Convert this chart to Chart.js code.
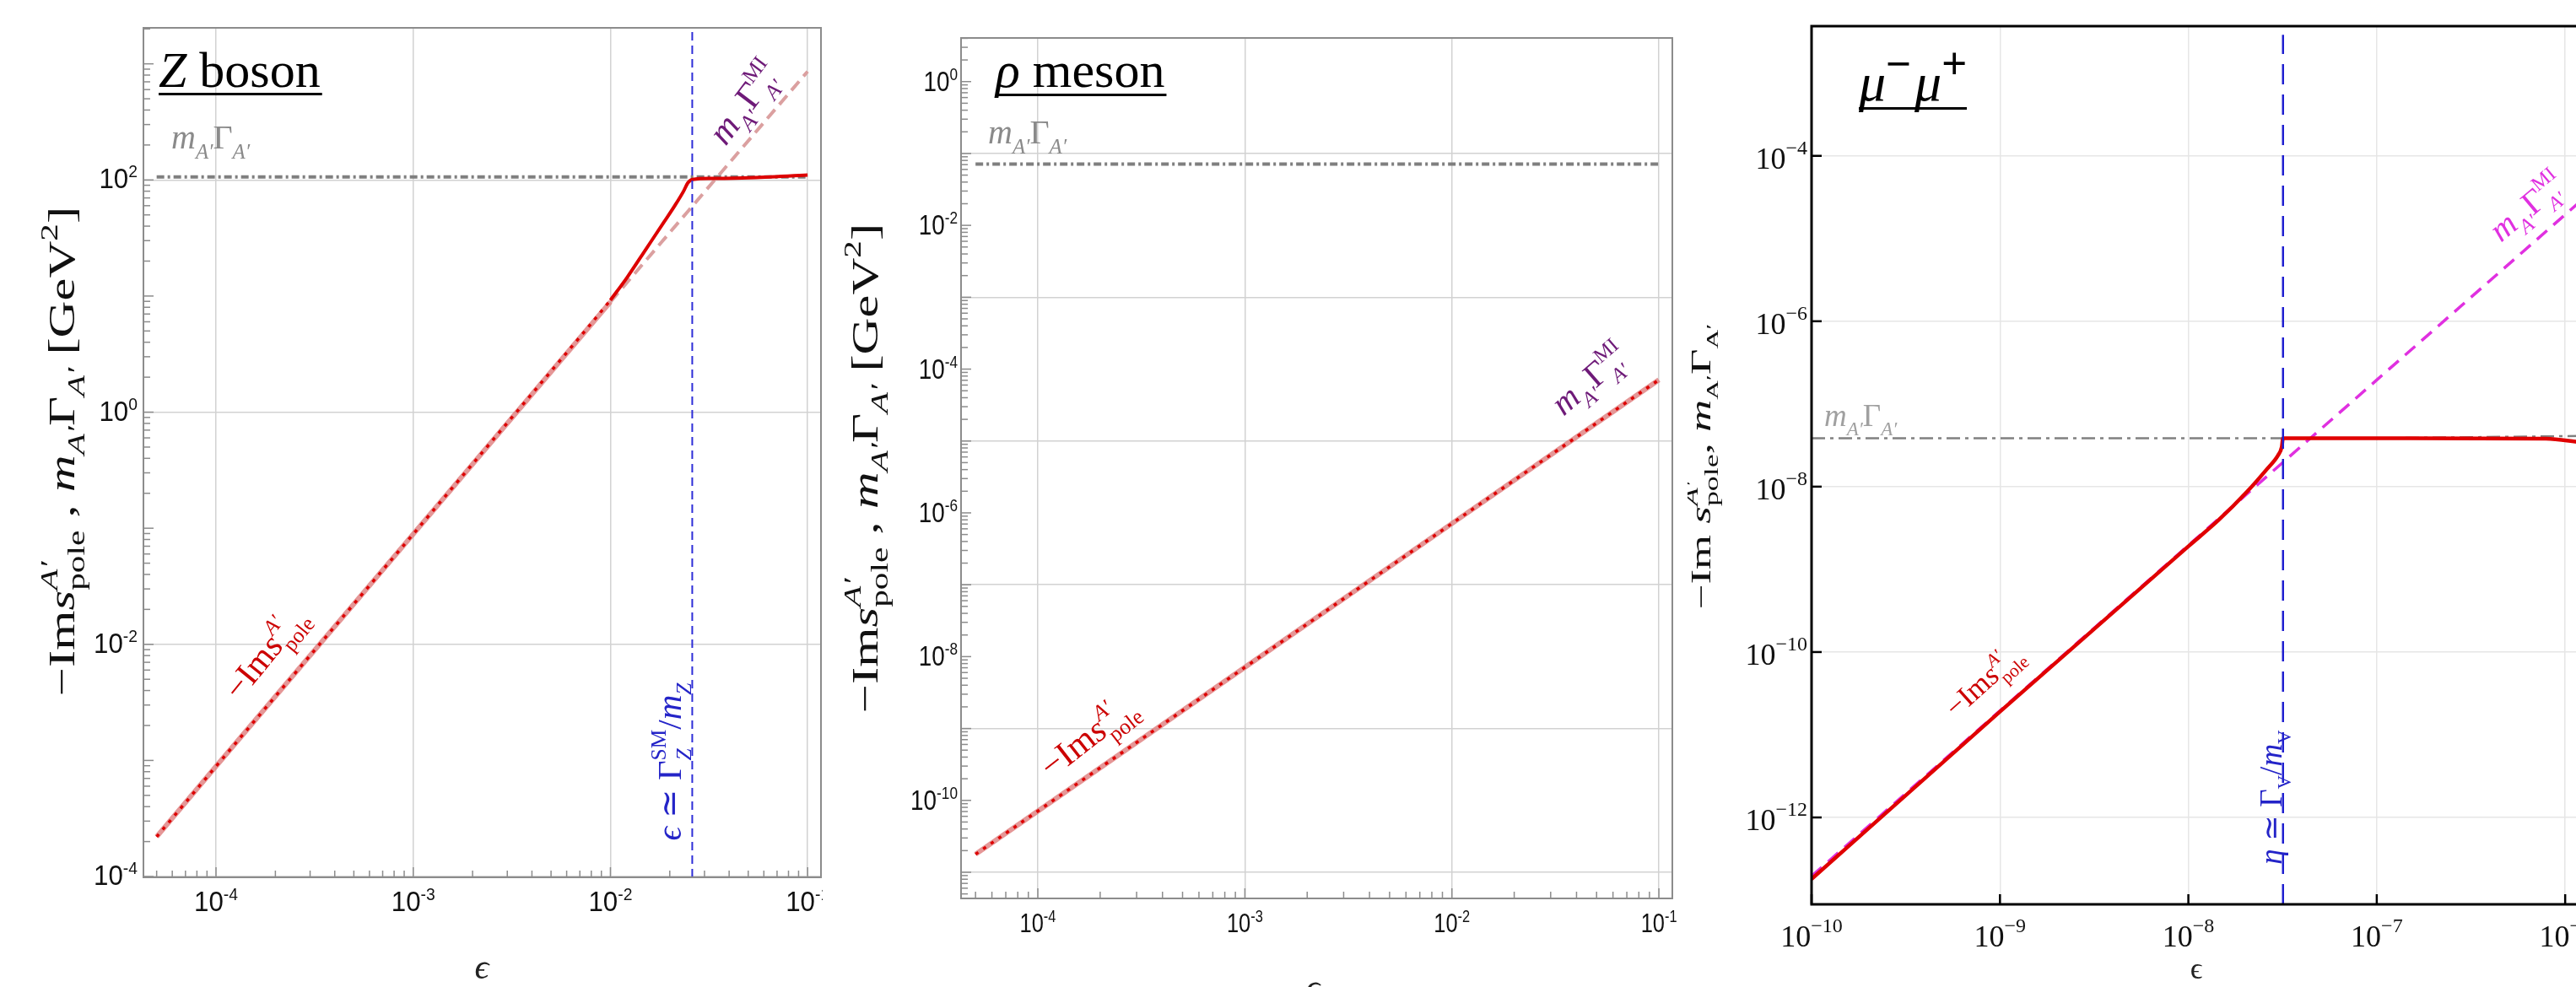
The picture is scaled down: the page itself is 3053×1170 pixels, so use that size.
<!DOCTYPE html>
<html>
<head>
<meta charset="utf-8">
<script src="https://cdn.jsdelivr.net/npm/chart.js"></script>
<style>
  html, body { margin: 0; padding: 0; background: #fff; overflow: hidden; width: 3053px; height: 1170px; }
  .panel { position: absolute; top: 0; height: 1170px; }
</style>
</head>
<body>
<div class="panel" style="left:0;width:975px"><canvas id="cz"></canvas></div>
<div class="panel" style="left:1000px;width:1000px"><canvas id="crho"></canvas></div>
<div class="panel" style="left:2000px;width:1100px"><canvas id="cmu"></canvas></div>
<script>
// ---- Z boson panel ----
const zEps = [5e-5, 1e-4, 1e-3, 5e-3, 8e-3, 0.01, 0.0122, 0.0153, 0.0187, 0.0213, 0.0235, 0.0247, 0.0261, 0.0326, 0.05, 0.1];
const zPole = [2.2e-4, 8.9e-4, 0.089, 2.25, 5.8, 9.2, 14.6, 26.0, 43.4, 60.7, 80, 94.4, 101, 103, 104.5, 110];
const zMIEps = [5e-5, 1e-4, 1e-3, 1e-2, 0.1];
const zMI = [2.2e-4, 8.9e-4, 0.089, 8.9, 860];
const zWidthEps = [5e-5, 0.1];
const zWidth = [106, 106];
const zBlueEps = 0.026;
const zSplit = 0.01;
const zXTicks = [-4, -3, -2, -1];
const zYTicks = [2, 0, -2, -4];

// ---- rho meson panel ----
const rhoEps = [5e-5, 1e-4, 1e-3, 1e-2, 0.1];
const rhoPole = [1.78e-11, 7.1e-11, 7.1e-9, 7.1e-7, 7.1e-5];
const rhoMI = [1.78e-11, 7.1e-11, 7.1e-9, 7.1e-7, 7.1e-5];
const rhoWidthEps = [5e-5, 0.1];
const rhoWidth = [0.071, 0.071];
const rhoXTicks = [-4, -3, -2, -1];
const rhoYTicks = [0, -2, -4, -6, -8, -10];
const rhoYGrid = [-1, -3, -5, -7, -9, -11];

// ---- mu- mu+ panel ----
const muEps = [1e-10, 1e-9, 1e-8, 1.44e-8, 2.04e-8, 2.6e-8, 2.99e-8, 3.13e-8, 3.18e-8, 1e-7, 7.9e-7, 1.2e-6];
const muPole = [1.8e-13, 1.9e-11, 1.9e-9, 3.9e-9, 8.6e-9, 1.61e-8, 2.39e-8, 3.0e-8, 3.85e-8, 3.85e-8, 3.8e-8, 3.45e-8];
const muMIEps = [1e-10, 1e-8, 1e-7, 1.2e-6];
const muMI = [1.95e-13, 1.95e-9, 1.95e-7, 2.8e-5];
const muWidthEps = [1e-10, 1e-7, 1.2e-6];
const muWidth = [3.85e-8, 3.85e-8, 4.1e-8];
const muBlueEps = 3.18e-8;
const muXTicks = [-10, -9, -8, -7, -6];
const muYTicks = [-4, -6, -8, -10, -12];

const SERIF = '"Liberation Serif", "DejaVu Serif", serif';
const SANS = '"Liberation Sans", "DejaVu Sans", sans-serif';
const RED = '#dd0000';

const pts = (xs, ys) => xs.map((x, i) => ({ x, y: ys[i] }));
function seg(xs, ys, lo, hi) {
  const out = [];
  xs.forEach((x, i) => { if (x >= lo && x <= hi) out.push({ x, y: ys[i] }); });
  return out;
}

// rich text: parts are [text, scale, dy(em), italic, stackWithNext, family]
function drawRich(ctx, parts, o) {
  const fontOf = p => (p[3] ? 'italic ' : '') + (o.size * p[1]) + 'px ' + (p[5] || o.family || SERIF);
  let w = 0, held = null;
  const xs = [];
  for (const p of parts) {
    ctx.font = fontOf(p);
    const pw = ctx.measureText(p[0]).width;
    xs.push(w);
    if (held !== null) { w += Math.max(held, pw); held = null; }
    else if (p[4]) { held = pw; }
    else { w += pw; }
  }
  if (held !== null) w += held;
  ctx.save();
  ctx.translate(o.x, o.y);
  ctx.rotate((o.angle || 0) * Math.PI / 180);
  ctx.scale(o.stretch || 1, 1);
  const x0 = o.align === 'center' ? -w / 2 : 0;
  ctx.fillStyle = o.color || '#000';
  ctx.textAlign = 'left';
  ctx.textBaseline = 'alphabetic';
  parts.forEach((p, i) => { ctx.font = fontOf(p); ctx.fillText(p[0], x0 + xs[i], p[2] * o.size); });
  ctx.restore();
  return w * (o.stretch || 1);
}

// "10^n" tick label
function powLabel(ctx, exp, x, y, o) {
  const sup = (exp < 0 ? o.minus : '') + Math.abs(exp);
  ctx.font = o.size + 'px ' + o.family;
  const wb = ctx.measureText('10').width * o.sx;
  ctx.font = o.supSize + 'px ' + o.family;
  const ws = ctx.measureText(sup).width * o.sx;
  const x0 = o.align === 'center' ? x - (wb + ws) / 2 : x - wb - ws;
  ctx.save();
  ctx.fillStyle = o.color;
  ctx.textAlign = 'left';
  ctx.textBaseline = 'alphabetic';
  ctx.translate(x0, y);
  ctx.scale(o.sx, 1);
  ctx.font = o.size + 'px ' + o.family;
  ctx.fillText('10', 0, 0);
  ctx.font = o.supSize + 'px ' + o.family;
  ctx.fillText(sup, wb / o.sx, -o.raise);
  ctx.restore();
}

function logMarks(min, max) {
  const out = [];
  for (let n = Math.floor(Math.log10(min)); n <= Math.ceil(Math.log10(max)); n++) {
    for (let k = 1; k <= 9; k++) {
      const v = k * Math.pow(10, n);
      if (v >= min * 0.999 && v <= max * 1.001) out.push({ v, major: k === 1 });
    }
  }
  return out;
}

const yTitle = [
  ['−Im', 1, 0, false], ['s', 1, 0, true], ['A′', 0.68, -0.45, true, 1], ['pole', 0.68, 0.28, false],
  [' , ', 1, 0, false], ['m', 1, 0, true], ['A′', 0.68, 0.28, true], ['Γ', 1, 0, false], ['A′', 0.68, 0.28, true],
  [' [GeV', 1, 0, false], ['2', 0.68, -0.45, false], [']', 1, 0, false]
];
const yTitleMu = [
  ['−Im', 1, 0, false], [' s', 1, 0, true], ['A′', 0.68, -0.45, true, 1], ['pole', 0.68, 0.28, false],
  [', ', 1, 0, false], ['m', 1, 0, true], ['A′', 0.6, 0.28, false], ['Γ', 1, 0, false], ['A′', 0.6, 0.28, false]
];
const widthLabel = [['m', 1, 0, true], ['A′', 0.62, 0.3, true], ['Γ', 1, 0, false], ['A′', 0.62, 0.3, true]];
const miLabel = [['m', 1, 0, true], ['A′', 0.62, 0.3, true], ['Γ', 1, 0, false], ['MI', 0.6, -0.45, false, 1], ['A′', 0.6, 0.32, true]];
const poleLabel = [['−Im', 1, 0, false], ['s', 1, 0, true], ['A′', 0.62, -0.45, true, 1], ['pole', 0.62, 0.3, false]];

function decor(p) {
  return {
    id: 'decor',
    afterDraw(chart) {
      const { ctx, chartArea: a, scales } = chart;
      const sx = scales.x, sy = scales.y;
      ctx.save();
      // ticks
      ctx.strokeStyle = p.tickColor;
      ctx.lineWidth = p.tickWidth;
      for (const t of p.xMarks) {
        const px = sx.getPixelForValue(t.v);
        if (px < a.left - 1 || px > a.right + 1) continue;
        const len = t.major ? p.majorLen : p.minorLen;
        ctx.beginPath(); ctx.moveTo(px, a.bottom); ctx.lineTo(px, a.bottom - len); ctx.stroke();
      }
      for (const t of p.yMarks) {
        const py = sy.getPixelForValue(t.v);
        const len = t.major ? p.majorLen : p.minorLen;
        ctx.beginPath(); ctx.moveTo(a.left, py); ctx.lineTo(a.left + len, py); ctx.stroke();
      }
      // frame
      ctx.strokeStyle = p.frameColor;
      ctx.lineWidth = p.frameWidth;
      ctx.strokeRect(a.left, a.top, a.right - a.left, a.bottom - a.top);
      // tick labels
      for (const e of p.xLabels) {
        powLabel(ctx, e, sx.getPixelForValue(Math.pow(10, e)), p.xLabelY, Object.assign({ align: 'center' }, p.labelFont, p.xLabelFont || {}));
      }
      for (const e of p.yLabels) {
        powLabel(ctx, e, p.yLabelX, sy.getPixelForValue(Math.pow(10, e)) + p.yLabelDy, Object.assign({ align: 'right' }, p.labelFont));
      }
      p.annotate(ctx, a);
      ctx.restore();
    }
  };
}

function makeChart(id, p) {
  return new Chart(document.getElementById(id), {
    type: 'line',
    data: { datasets: p.datasets },
    options: {
      responsive: true,
      maintainAspectRatio: false,
      animation: false,
      layout: { padding: { top: p.area.top, right: p.area.right, left: 0, bottom: 0 } },
      plugins: { legend: { display: false }, tooltip: { enabled: false } },
      elements: { point: { radius: 0 }, line: { tension: 0 } },
      scales: {
        x: {
          type: 'logarithmic', min: p.xMin, max: p.xMax,
          ticks: { display: false },
          grid: { color: p.gridColor, lineWidth: 1.5, drawTicks: false },
          border: { display: false },
          afterBuildTicks: s => { s.ticks = p.xGrid.map(e => ({ value: Math.pow(10, e) })); },
          afterFit: s => { s.height = p.area.xh; }
        },
        y: {
          type: 'logarithmic', min: p.yMin, max: p.yMax,
          ticks: { display: false },
          grid: { color: p.gridColor, lineWidth: 1.5, drawTicks: false },
          border: { display: false },
          afterBuildTicks: s => { s.ticks = p.yGrid.map(e => ({ value: Math.pow(10, e) })); },
          afterFit: s => { s.width = p.area.left; }
        }
      }
    },
    plugins: [decor(p)]
  });
}

function line(data, color, width, dash, order, extra) {
  return Object.assign({ data, borderColor: color, borderWidth: width, borderDash: dash || [], order, fill: false,
    borderCapStyle: 'butt', pointRadius: 0 }, extra || {});
}

// ---------- Panel 1: Z boson ----------
const z = {
  area: { left: 170, top: 33, right: 2, xh: 130 },
  xMin: 4.285e-5, xMax: 0.1169, yMin: 9.84e-5, yMax: 2042,
  xGrid: zXTicks, yGrid: zYTicks, gridColor: '#d2d2d2',
  frameColor: '#8c8c8c', frameWidth: 2, tickColor: '#8c8c8c', tickWidth: 1.5, majorLen: 12, minorLen: 8,
  xMarks: logMarks(4.285e-5, 0.1169), yMarks: logMarks(9.84e-5, 2042),
  xLabels: zXTicks, yLabels: zYTicks, xLabelY: 1080, yLabelX: 163, yLabelDy: 10,
  labelFont: { size: 34, supSize: 21, family: SANS, sx: 0.92, minus: '-', raise: 13, color: '#111' },
  datasets: [
    line([{ x: zBlueEps, y: 9.84e-5 }, { x: zBlueEps, y: 2042 }], '#2d2dd8', 2, [10, 6], 0),
    line(seg(zEps, zPole, zSplit, 1), RED, 4, [], 1, { cubicInterpolationMode: 'monotone' }),
    line(seg(zEps, zPole, 0, zSplit), RED, 3.5, [4, 7], 2),
    line(pts(zWidthEps, zWidth), '#7f7f7f', 4, [9, 4, 3, 4], 3),
    line(seg(zMIEps, zMI, 0, zSplit), 'rgba(222,125,125,0.8)', 6, [], 4),
    line(seg(zMIEps, zMI, zSplit, 1), '#dba0a0', 4, [14, 8], 5)
  ],
  annotate(ctx) {
    const w = drawRich(ctx, [['Z', 1, 0, true], [' boson', 1, 0, false]], { x: 188, y: 103, size: 60, color: '#000' });
    ctx.fillStyle = '#000'; ctx.fillRect(188, 110, w + 2, 3);
    drawRich(ctx, widthLabel, { x: 203, y: 176, size: 40, color: '#8a8a8a' });
    drawRich(ctx, miLabel, { x: 860, y: 174, size: 43, color: '#6e1a78', angle: -53 });
    drawRich(ctx, poleLabel, { x: 284, y: 832, size: 41, color: '#cc0000', angle: -51 });
    drawRich(ctx, [['ϵ', 1, 0, true], [' ≃ ', 1, 0, false], ['Γ', 1, 0, false], ['SM', 0.62, -0.45, false, 1], ['Z', 0.62, 0.3, true],
      ['/', 1, 0, false], ['m', 1, 0, true], ['Z', 0.62, 0.3, true]],
      { x: 807, y: 903, size: 41, color: '#2424c8', angle: -90, align: 'center' });
    drawRich(ctx, yTitle, { x: 88, y: 535, size: 44, color: '#111', angle: -90, align: 'center', stretch: 1.38 });
    drawRich(ctx, [['ϵ', 1, 0, true]], { x: 571, y: 1160, size: 42, color: '#222', align: 'center' });
  }
};

// ---------- Panel 2: rho meson ----------
const rho = {
  area: { left: 139, top: 45, right: 18, xh: 105 },
  xMin: 4.256e-5, xMax: 0.1161, yMin: 4.325e-12, yMax: 4.046,
  xGrid: rhoXTicks, yGrid: rhoYGrid, gridColor: '#d2d2d2',
  frameColor: '#8c8c8c', frameWidth: 2, tickColor: '#8c8c8c', tickWidth: 1.5, majorLen: 12, minorLen: 8,
  xMarks: logMarks(4.256e-5, 0.1161), yMarks: logMarks(4.325e-12, 4.046),
  xLabels: rhoXTicks, yLabels: rhoYTicks, xLabelY: 1105, yLabelX: 135, yLabelDy: 11,
  labelFont: { size: 34, supSize: 21, family: SANS, sx: 0.82, minus: '-', raise: 13, color: '#111' },
  xLabelFont: { size: 31, supSize: 20, raise: 12 },
  datasets: [
    line(pts(rhoEps, rhoPole), RED, 3.5, [4, 7], 1),
    line(pts(rhoWidthEps, rhoWidth), '#7f7f7f', 4, [9, 4, 3, 4], 2),
    line(pts(rhoEps, rhoMI), 'rgba(222,125,125,0.8)', 6, [], 3)
  ],
  annotate(ctx) {
    const w = drawRich(ctx, [['ρ', 1, 0, true], [' meson', 1, 0, false]], { x: 180, y: 103, size: 60, color: '#000' });
    ctx.fillStyle = '#000'; ctx.fillRect(180, 111, w + 2, 3);
    drawRich(ctx, widthLabel, { x: 171, y: 170, size: 40, color: '#8a8a8a' });
    drawRich(ctx, miLabel, { x: 853, y: 494, size: 41, color: '#6e1a78', angle: -41 });
    drawRich(ctx, poleLabel, { x: 246, y: 924, size: 42, color: '#cc0000', angle: -38 });
    drawRich(ctx, yTitle, { x: 40, y: 555, size: 44, color: '#111', angle: -90, align: 'center', stretch: 1.38 });
    drawRich(ctx, [['ϵ', 1, 0, true]], { x: 556, y: 1184, size: 42, color: '#222', align: 'center' });
  }
};

// ---------- Panel 3: mu- mu+ ----------
const mu = {
  area: { left: 147, top: 31, right: 37.5, xh: 98 },
  xMin: 1e-10, xMax: 1.259e-6, yMin: 8.9e-14, yMax: 3.7e-3,
  xGrid: muXTicks, yGrid: muYTicks, gridColor: '#e6e6e6',
  frameColor: '#000', frameWidth: 3, tickColor: '#000', tickWidth: 2.5, majorLen: 12, minorLen: 0,
  xMarks: muXTicks.map(e => ({ v: Math.pow(10, e), major: true })),
  yMarks: muYTicks.map(e => ({ v: Math.pow(10, e), major: true })),
  xLabels: muXTicks, yLabels: muYTicks, xLabelY: 1122, yLabelX: 142, yLabelDy: 15,
  labelFont: { size: 36, supSize: 24, family: SERIF, sx: 1, minus: '−', raise: 17, color: '#111' },
  datasets: [
    line([{ x: muBlueEps, y: 8.9e-14 }, { x: muBlueEps, y: 2.9e-3 }], '#1f1fd0', 2.5, [24, 12], 0),
    line(pts(muEps, muPole), '#e00000', 4.5, [], 1, { cubicInterpolationMode: 'monotone' }),
    line(pts(muMIEps, muMI), '#e030e0', 3.5, [16, 10], 2),
    line(pts(muWidthEps, muWidth), '#808080', 2.5, [16, 6, 4, 6], 3)
  ],
  annotate(ctx) {
    const w = drawRich(ctx, [['μ', 1, 0, true], ['−', 0.8, -0.4, false, 0, SANS], [' ', 0.25, 0, false], ['μ', 1, 0, true], ['+', 0.8, -0.4, false, 0, SANS]],
      { x: 203, y: 119, size: 64, color: '#000' });
    ctx.fillStyle = '#000'; ctx.fillRect(203, 127, w, 3);
    drawRich(ctx, widthLabel, { x: 162, y: 505, size: 37, color: '#a0a0a0' });
    drawRich(ctx, miLabel, { x: 964, y: 288, size: 40, color: '#e030e0', angle: -40 });
    drawRich(ctx, poleLabel, { x: 318, y: 852, size: 35, color: '#cc0000', angle: -42 });
    drawRich(ctx, [['η', 1, 0, true], [' ≃ ', 1, 0, false], ['Γ', 1, 0, false], ['V', 0.62, 0.3, false],
      ['/', 1, 0, false], ['m', 1, 0, true], ['V', 0.62, 0.3, false]],
      { x: 704, y: 945, size: 37, color: '#2424c8', angle: -90, align: 'center' });
    drawRich(ctx, yTitleMu, { x: 27, y: 553, size: 33, color: '#111', angle: -90, align: 'center', stretch: 1.6 });
    drawRich(ctx, [['ϵ', 1, 0, false]], { x: 603, y: 1160, size: 36, color: '#222', align: 'center' });
  }
};

makeChart('cz', z);
makeChart('crho', rho);
makeChart('cmu', mu);
</script>
</body>
</html>
